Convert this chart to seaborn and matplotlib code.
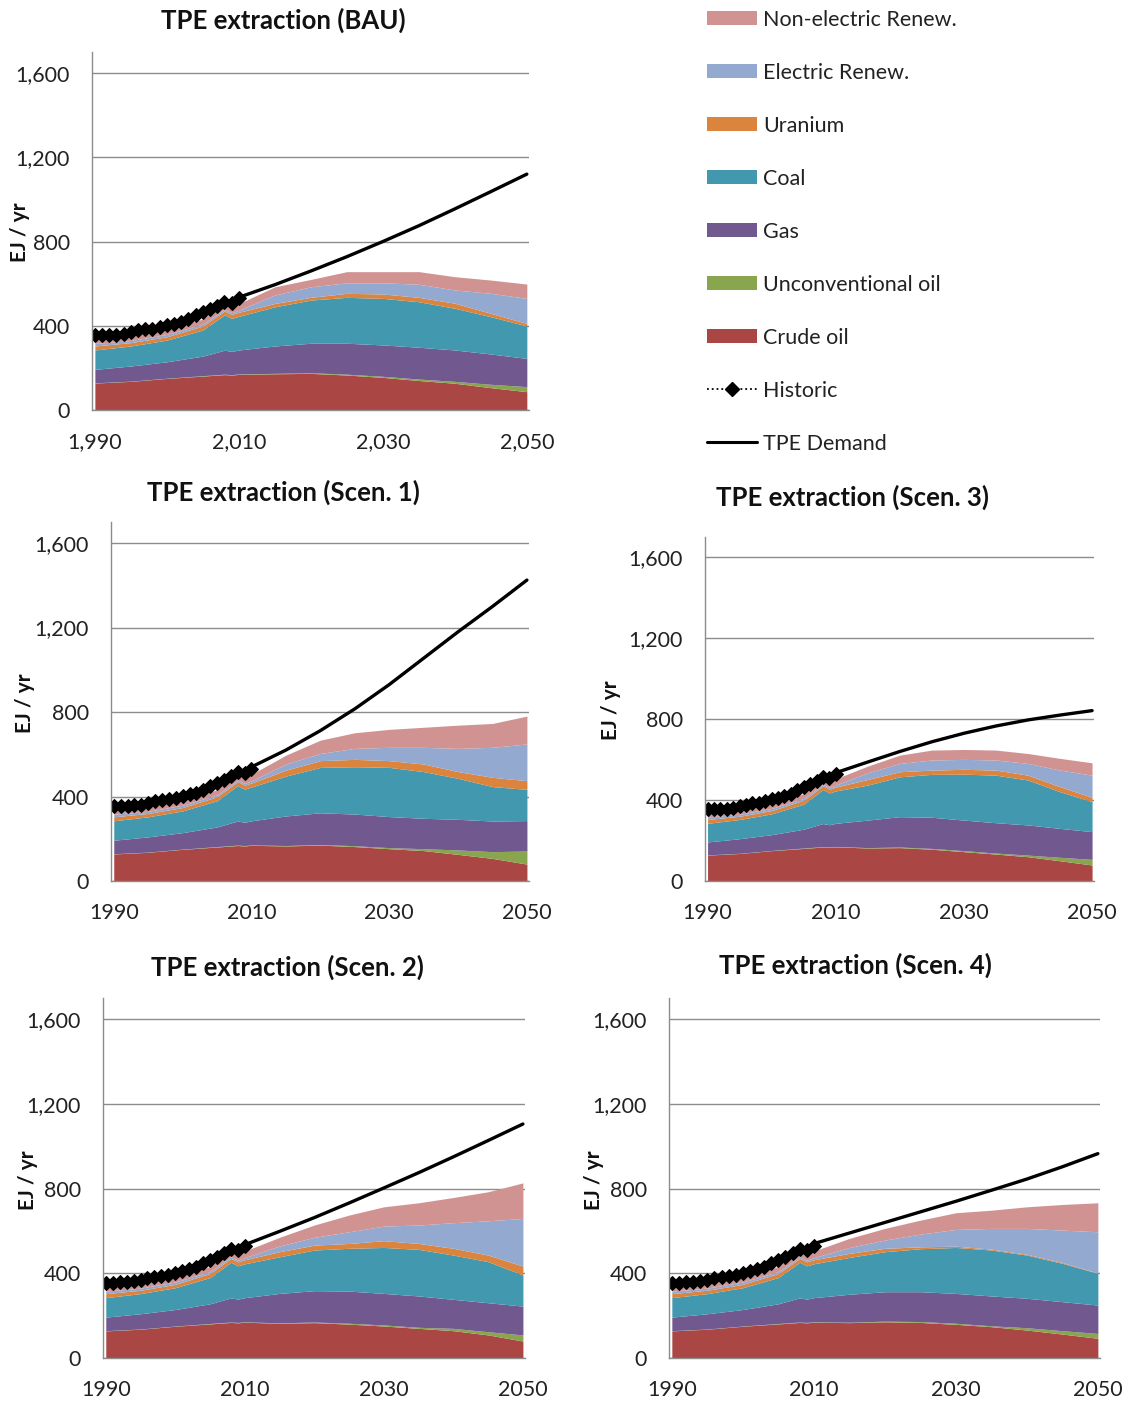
import numpy as np
import matplotlib
matplotlib.use('Agg')
import matplotlib.pyplot as plt
import seaborn as sns
from matplotlib.patches import Patch
from matplotlib.lines import Line2D

sns.set_style('white')
plt.rcParams['font.family'] = ['Lato', 'DejaVu Sans']

# stack order, bottom to top
categories = ['Crude oil', 'Unconventional oil', 'Gas', 'Coal', 'Uranium',
              'Electric Renew.', 'Non-electric Renew.']
colors = ['#AA4643', '#89A54E', '#71588F', '#4198AF', '#DB843D', '#93A9CF', '#D19392']

years_past = [1990, 1995, 2000, 2005, 2008, 2009, 2010]
years_future = [2015, 2020, 2025, 2030, 2035, 2040, 2045, 2050]
years_demand = [2010, 2015, 2020, 2025, 2030, 2035, 2040, 2045, 2050]

# cumulative stack tops (EJ/yr), one row per category; 1990-2010 shared by all scenarios
past_tops = [
    [128, 136, 150, 161, 168, 166, 169],
    [129, 137, 151, 163, 170, 168, 171],
    [193, 209, 229, 256, 284, 278, 285],
    [285, 304, 332, 380, 452, 435, 445],
    [304, 320, 348, 399, 470, 454, 464],
    [316, 330, 359, 408, 478, 462, 474],
    [345, 355, 382, 432, 500, 486, 505],
]

bau_tops = [
    [172, 174, 166, 155, 140, 127, 106, 87],
    [174, 177, 170, 160, 147, 136, 122, 111],
    [304, 317, 317, 309, 298, 285, 266, 245],
    [490, 522, 535, 530, 514, 483, 443, 399],
    [506, 535, 554, 551, 535, 507, 459, 411],
    [546, 585, 604, 604, 597, 570, 554, 530],
    [585, 620, 657, 657, 657, 633, 617, 598],
]
scen1_tops = [
    [166, 170, 163, 153, 144, 126, 107, 80],
    [168, 173, 167, 158, 153, 147, 139, 142],
    [308, 323, 317, 305, 297, 292, 284, 286],
    [497, 538, 541, 538, 518, 486, 447, 434],
    [525, 570, 576, 570, 554, 518, 491, 475],
    [554, 604, 628, 633, 633, 628, 633, 649],
    [596, 667, 702, 718, 728, 738, 746, 781],
]
scen2_tops = [
    [164, 167, 160, 151, 140, 129, 109, 80],
    [166, 170, 164, 156, 145, 140, 124, 109],
    [305, 318, 316, 305, 293, 277, 261, 245],
    [478, 510, 518, 522, 513, 486, 455, 392],
    [502, 533, 541, 554, 541, 518, 486, 434],
    [529, 570, 596, 623, 628, 639, 648, 659],
    [570, 628, 675, 714, 733, 758, 785, 827],
]
scen3_tops = [
    [163, 165, 157, 145, 133, 120, 100, 79],
    [165, 168, 161, 150, 138, 128, 117, 107],
    [301, 318, 315, 301, 288, 277, 260, 244],
    [474, 515, 527, 528, 523, 499, 441, 392],
    [502, 540, 548, 552, 548, 523, 466, 413],
    [535, 581, 598, 601, 598, 581, 548, 523],
    [568, 622, 647, 650, 647, 630, 606, 584],
]
scen4_tops = [
    [167, 171, 168, 159, 148, 132, 113, 93],
    [169, 174, 172, 164, 152, 143, 129, 116],
    [301, 313, 313, 305, 293, 282, 266, 250],
    [475, 502, 516, 522, 510, 486, 447, 400],
    [494, 518, 525, 528, 514, 490, 451, 401],
    [522, 557, 585, 607, 612, 612, 604, 596],
    [565, 612, 651, 686, 698, 714, 725, 733],
]

bau_demand = [535, 595, 660, 728, 800, 875, 955, 1037, 1120]
scen1_demand = [540, 620, 712, 815, 930, 1055, 1180, 1300, 1425]
scen2_demand = [535, 598, 663, 732, 803, 875, 950, 1027, 1105]
scen3_demand = [535, 588, 640, 688, 730, 766, 796, 820, 842]
scen4_demand = [540, 590, 640, 690, 740, 792, 845, 903, 965]

hist_years = list(range(1990, 2011))
hist_tpe = [356, 356, 357, 358, 362, 370, 378, 383, 386, 393, 403,
            410, 418, 432, 450, 465, 478, 495, 515, 510, 530]

W, H = 1127, 1403
fig = plt.figure(figsize=(W / 100, H / 100), dpi=100)


def px_axes(left, right, bottom, top):
    return fig.add_axes([left / W, 1 - bottom / H, (right - left) / W, (bottom - top) / H])


def draw_panel(ax, tops_future, demand, comma_years):
    years = years_past + years_future
    tops = np.array([p + f for p, f in zip(past_tops, tops_future)], dtype=float)
    layers = np.diff(np.vstack([np.zeros(len(years)), tops]), axis=0)
    ax.stackplot(years, layers, colors=colors, linewidth=0)
    sns.lineplot(x=years_demand, y=demand, ax=ax, color='black', lw=2.4)
    sns.lineplot(x=hist_years, y=hist_tpe, ax=ax, color='black', lw=1.3, linestyle=':',
                 marker='D', markersize=7, markeredgecolor='black')

    ax.set_xlim(1989.6, 2050.3)
    ax.set_ylim(0, 1700)
    ax.set_yticks([0, 400, 800, 1200, 1600])
    ax.set_yticklabels([f'{v:,}' for v in [0, 400, 800, 1200, 1600]])
    ticks = list(range(1990, 2051, 10))
    ax.set_xticks(ticks)
    labels = []
    for t in ticks:
        if (t - 1990) % 20 == 0:
            labels.append(f'{t:,}' if comma_years else str(t))
        else:
            labels.append('')
    ax.set_xticklabels(labels)
    ax.set_xlabel('')
    ax.set_ylabel('')

    ax.set_axisbelow(True)
    ax.grid(axis='y', color='#8c8c8c', lw=1)
    ax.grid(axis='x', visible=False)
    ax.xaxis.set_zorder(2.5)
    for s in ['top', 'right']:
        ax.spines[s].set_visible(False)
    for s in ['left', 'bottom']:
        ax.spines[s].set_color('#8c8c8c')
        ax.spines[s].set_linewidth(1)
    ax.tick_params(axis='y', length=0, pad=16, labelsize=15.5, labelcolor='#222222')
    ax.tick_params(axis='x', direction='in', length=6, width=1, color='#e6dede',
                   pad=16, labelsize=15.5, labelcolor='#222222')


panels = [
    ((92, 529, 410, 52), bau_tops, bau_demand, True, 'TPE extraction (BAU)', (283, 20), (20, 232)),
    ((111, 529, 881, 522), scen1_tops, scen1_demand, False, 'TPE extraction (Scen. 1)', (283, 492), (25, 703)),
    ((705, 1094, 881, 537), scen3_tops, scen3_demand, False, 'TPE extraction (Scen. 3)', (853, 497), (611, 710)),
    ((103, 525, 1358, 998), scen2_tops, scen2_demand, False, 'TPE extraction (Scen. 2)', (287, 967), (28, 1180)),
    ((669, 1100, 1358, 998), scen4_tops, scen4_demand, False, 'TPE extraction (Scen. 4)', (855, 965), (594, 1180)),
]

for box, tops_f, dem, comma, title, tpos, ypos in panels:
    ax = px_axes(*box)
    draw_panel(ax, tops_f, dem, comma)
    fig.text(tpos[0] / W, 1 - tpos[1] / H, title, ha='center', va='center',
             fontsize=18.5, fontweight='bold', color='#111111')
    fig.text(ypos[0] / W, 1 - ypos[1] / H, 'EJ / yr', ha='center', va='center',
             rotation=90, fontsize=15, fontweight='bold', color='#111111')

# legend, top entry first
handles = [Patch(facecolor=c, edgecolor='none') for c in colors[::-1]]
handles += [Line2D([], [], color='black', lw=1.3, linestyle=':', marker='D', markersize=7),
            Line2D([], [], color='black', lw=2.2)]
labels = categories[::-1] + ['Historic', 'TPE Demand']
fig.legend(handles, labels, loc='upper left', bbox_to_anchor=(707 / W, 1 - 10 / H),
           frameon=False, fontsize=15.5, handlelength=2.3, handleheight=0.62,
           handletextpad=0.3, labelspacing=1.53, borderpad=0, borderaxespad=0,
           labelcolor='#222222')

fig.savefig('out.png', dpi=100)
